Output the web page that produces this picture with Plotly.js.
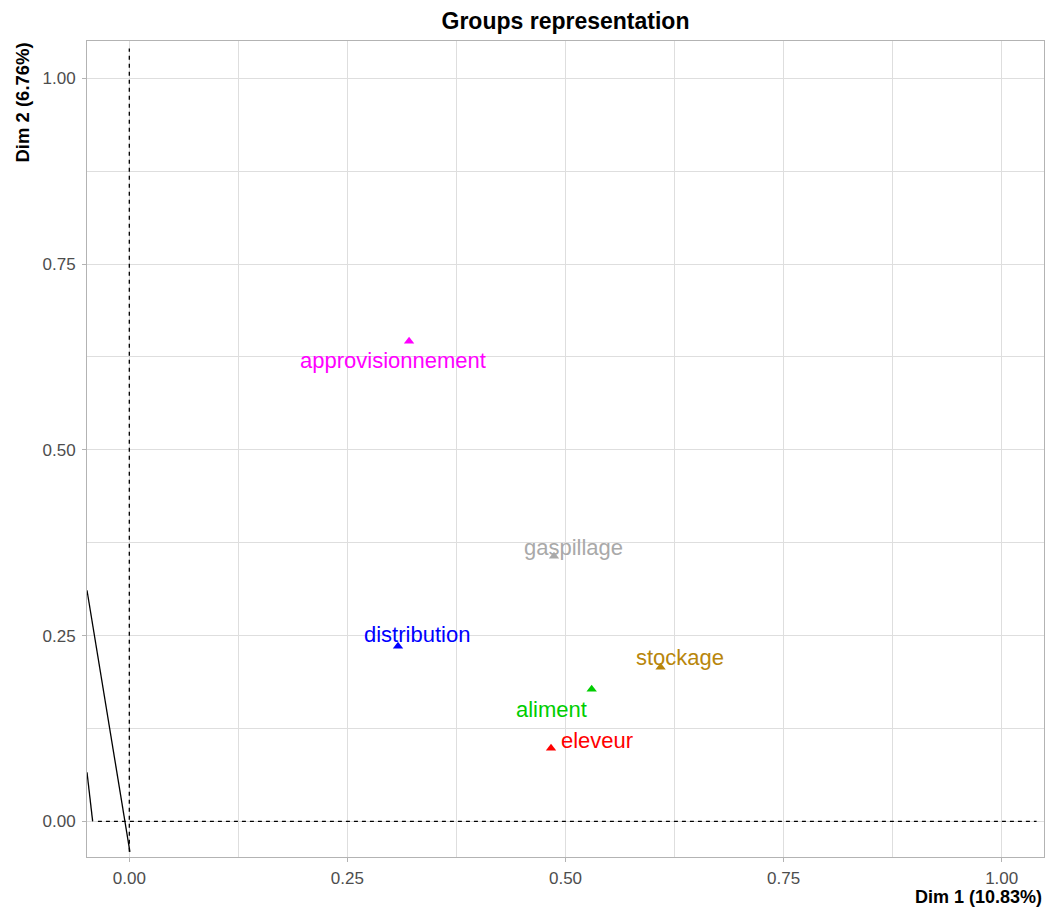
<!DOCTYPE html>
<html>
<head>
<meta charset="utf-8">
<script src="https://cdn.plot.ly/plotly-3.0.1.min.js"></script>
<style>html,body{margin:0;padding:0;background:#fff;}#chart{width:1050px;height:908px;}</style>
</head>
<body>
<div id="chart"></div>
<script>
// Groups (MFA) and their coordinates
const groups = ["approvisionnement", "gaspillage", "distribution", "stockage", "aliment", "eleveur"];
const dim1 = [0.3207, 0.4868, 0.3080, 0.6090, 0.5300, 0.4834];
const dim2 = [0.6460, 0.3567, 0.2355, 0.2073, 0.1777, 0.0983];
const colors = ["#FF00FF", "#A9A9A9", "#0000FF", "#B8860B", "#00CD00", "#FF0000"];
// repelled label positions (data units)
const labelX = [0.3018, 0.5090, 0.3300, 0.6310, 0.4845, 0.5360];
const labelY = [0.6205, 0.3688, 0.2517, 0.2207, 0.1507, 0.1090];
// stray segments in lower-left
const seg1X = [-0.0485, 0.0007];
const seg1Y = [0.311, -0.041];
const seg2X = [-0.0485, -0.042];
const seg2Y = [0.066, 0.0];
// tick values
const tickVals = [0, 0.25, 0.5, 0.75, 1.0];
const tickText = ["0.00", "0.25", "0.50", "0.75", "1.00"];

const FONT = "Liberation Sans, Arial, sans-serif";

const traces = [
  {x: seg1X, y: seg1Y, mode: "lines", line: {color: "#000", width: 1.3}, hoverinfo: "skip", showlegend: false},
  {x: seg2X, y: seg2Y, mode: "lines", line: {color: "#000", width: 1.3}, hoverinfo: "skip", showlegend: false},
  {x: dim1, y: dim2, mode: "markers", marker: {symbol: "triangle-up", size: 9, color: colors, line: {width: 0}},
   hoverinfo: "text", text: groups, showlegend: false}
];

const annotations = groups.map((g, i) => ({
  x: labelX[i], y: labelY[i], xref: "x", yref: "y", text: g, showarrow: false,
  font: {family: FONT, size: 22, color: colors[i]}, xanchor: "center", yanchor: "middle"
}));
annotations.push({
  text: "<b>Dim 1 (10.83%)</b>", xref: "paper", yref: "paper", x: 1, y: -40/816, xanchor: "right", yanchor: "middle",
  showarrow: false, font: {family: FONT, size: 18, color: "#000"}
});
annotations.push({
  text: "<b>Dim 2 (6.76%)</b>", xref: "paper", yref: "paper", x: -65.5/958, y: 1.0, xanchor: "center", yanchor: "top",
  textangle: -90, showarrow: false, font: {family: FONT, size: 18.5, color: "#000"}
});

const axisCommon = {
  showgrid: true, gridcolor: "#DEDEDE", gridwidth: 1, zeroline: false,
  showline: true, mirror: true, linecolor: "#B3B3B3", linewidth: 1,
  ticks: "outside", ticklen: 4, tickcolor: "#B3B3B3", tickwidth: 1,
  tickmode: "array", tickvals: tickVals, ticktext: tickText,
  tickfont: {family: FONT, size: 17, color: "#4D4D4D"},
  minor: {dtick: 0.125, tick0: 0, showgrid: true, gridcolor: "#DEDEDE", gridwidth: 1, ticks: ""}
};

const layout = {
  width: 1050, height: 908,
  margin: {l: 87, r: 6, t: 41, b: 51},
  paper_bgcolor: "#fff", plot_bgcolor: "#fff",
  title: {text: "<b>Groups representation</b>", x: 0.5, xref: "paper", y: 1 - 21/908, yref: "container",
          xanchor: "center", yanchor: "middle", font: {family: FONT, size: 23, color: "#000"}},
  xaxis: Object.assign({}, axisCommon, {range: [-0.0485, 1.0485], ticklabelstandoff: 2}),
  yaxis: Object.assign({}, axisCommon, {range: [-0.048, 1.0502], ticklabelstandoff: 3}),
  shapes: [
    {type: "line", xref: "x", yref: "y", x0: 0, x1: 0, y0: -0.041, y1: 1.04, line: {color: "#000", width: 1.3, dash: "4px,4px"}},
    {type: "line", xref: "x", yref: "y", x0: -0.036, x1: 1.04, y0: 0, y1: 0, line: {color: "#000", width: 1.3, dash: "4px,4px"}}
  ],
  annotations: annotations,
  hovermode: false
};

Plotly.newPlot("chart", traces, layout, {displayModeBar: false, staticPlot: true});
</script>
</body>
</html>
